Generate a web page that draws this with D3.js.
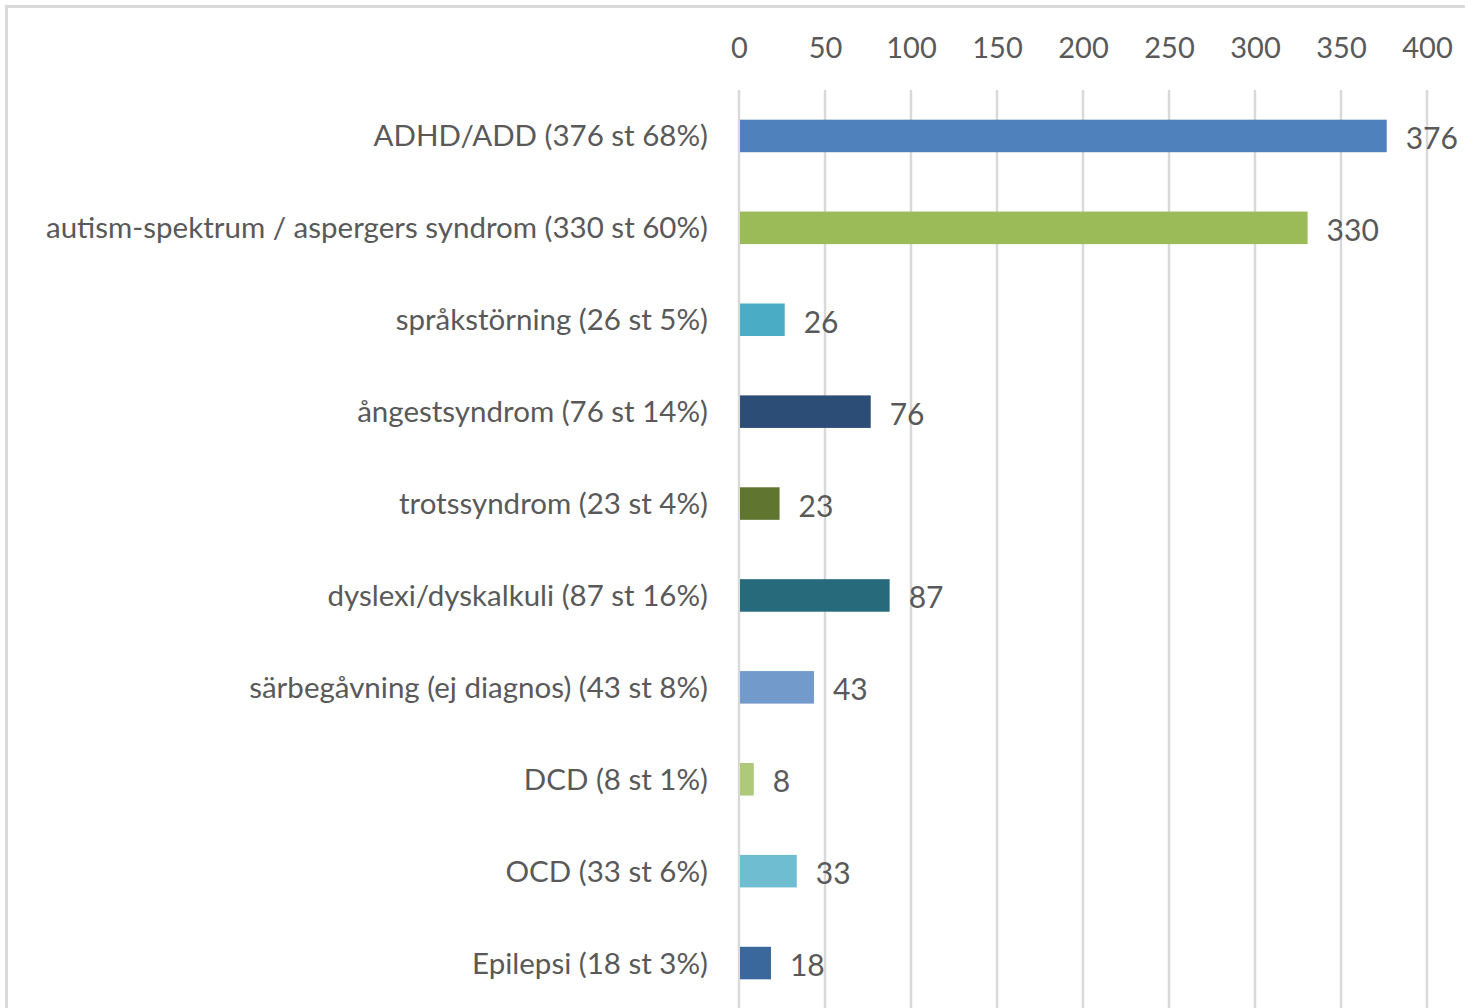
<!DOCTYPE html>
<html>
<head>
<meta charset="utf-8">
<script src="https://cdn.jsdelivr.net/npm/d3@7"></script>
<style>
  html, body { margin: 0; padding: 0; background: #fff; }
  svg { display: block; }
  text { font-family: Lato, "Open Sans", sans-serif; fill: #595959; }
</style>
</head>
<body>
<svg id="chart" width="1473" height="1008"></svg>
<script>
const names = [
  "ADHD/ADD",
  "autism-spektrum / aspergers syndrom",
  "språkstörning",
  "ångestsyndrom",
  "trotssyndrom",
  "dyslexi/dyskalkuli",
  "särbegåvning (ej diagnos)",
  "DCD",
  "OCD",
  "Epilepsi"
];
const values = [376, 330, 26, 76, 23, 87, 43, 8, 33, 18];
const percents = [68, 60, 5, 14, 4, 16, 8, 1, 6, 3];
const colors = ["#4f81bd", "#9bbb59", "#4bacc6", "#2c4d75", "#5f7530",
                "#276a7c", "#729aca", "#afc97a", "#6fbdd1", "#3a679c"];
const tickValues = [0, 50, 100, 150, 200, 250, 300, 350, 400];

const labels = names.map((n, i) => `${n} (${values[i]} st ${percents[i]}%)`);

const svg = d3.select("#chart");

// frame (top and left edges visible)
svg.append("line").attr("x1", 6.5).attr("x2", 1465).attr("y1", 6.5).attr("y2", 6.5)
  .attr("stroke", "#d9d9d9").attr("stroke-width", 3);
svg.append("line").attr("x1", 6.5).attr("x2", 6.5).attr("y1", 5).attr("y2", 1008)
  .attr("stroke", "#d9d9d9").attr("stroke-width", 3);

const x = d3.scaleLinear().domain([0, 400]).range([739, 1427]);
const y = d3.scaleBand().domain(labels).range([90, 1009])
  .paddingInner(0.646).paddingOuter(0.323);

// gridlines
svg.append("g").selectAll("line").data(tickValues).join("line")
  .attr("x1", d => x(d)).attr("x2", d => x(d))
  .attr("y1", 90).attr("y2", 1008)
  .attr("stroke", "#d9d9d9").attr("stroke-width", 2.5);

// top axis labels
const axis = d3.axisTop(x).tickValues(tickValues).tickSize(0).tickPadding(0);
const gAxis = svg.append("g").attr("transform", "translate(0,58)").call(axis);
gAxis.select(".domain").remove();
gAxis.selectAll("text").style("font-size", "29px").style("font-family", "Lato, sans-serif")
  .attr("fill", "#595959").attr("dy", 0);

// bars
svg.append("g").selectAll("rect").data(values).join("rect")
  .attr("x", x(0) + 1)
  .attr("y", (d, i) => y(labels[i]))
  .attr("width", d => x(d) - x(0))
  .attr("height", y.bandwidth())
  .attr("fill", (d, i) => colors[i]);

// value labels
svg.append("g").selectAll("text").data(values).join("text")
  .attr("x", d => x(d) + 20)
  .attr("y", (d, i) => y(labels[i]) + y.bandwidth() / 2 + 1)
  .attr("dominant-baseline", "central")
  .style("font-size", "30px")
  .text(d => d);

// category labels
svg.append("g").selectAll("text").data(labels).join("text")
  .attr("x", 708)
  .attr("y", d => y(d) + y.bandwidth() / 2 - 1)
  .attr("text-anchor", "end")
  .attr("dominant-baseline", "central")
  .style("font-size", "29.5px")
  .text(d => d);
</script>
</body>
</html>
